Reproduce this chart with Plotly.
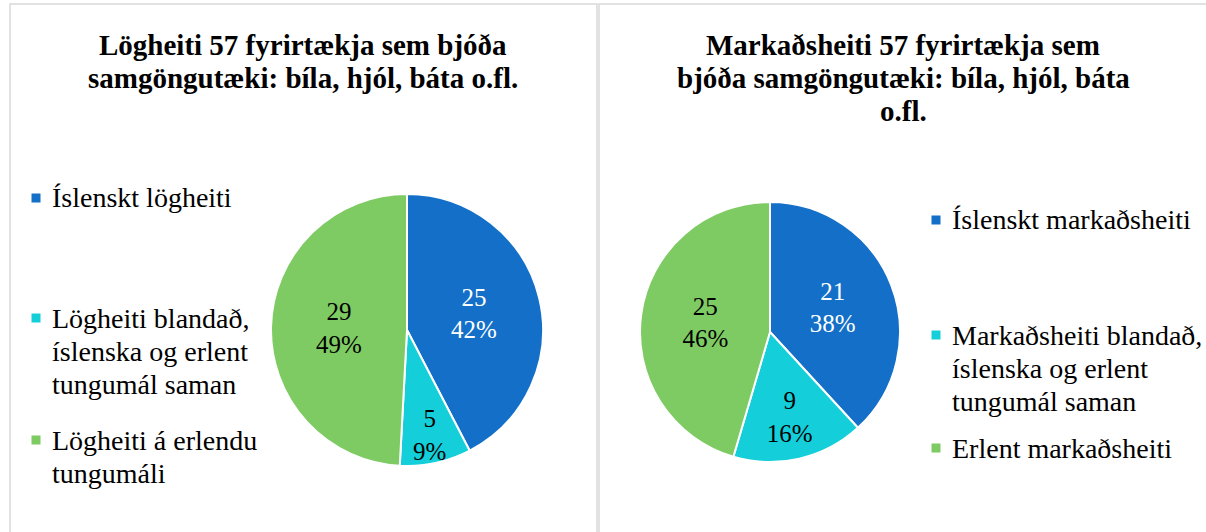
import plotly.graph_objects as go

W, H = 1206, 532

# data
left_labels = ['Íslenskt lögheiti', 'Lögheiti blandað,<br>íslenska og erlent<br>tungumál saman', 'Lögheiti á erlendu<br>tungumáli']
left_values = [25, 5, 29]
left_pct = ['42%', '9%', '49%']

right_labels = ['Íslenskt markaðsheiti', 'Markaðsheiti blandað,<br>íslenska og erlent<br>tungumál saman', 'Erlent markaðsheiti']
right_values = [21, 9, 25]
right_pct = ['38%', '16%', '46%']

left_title = ['Lögheiti 57 fyrirtækja sem bjóða', 'samgöngutæki: bíla, hjól, báta o.fl.']
right_title = ['Markaðsheiti 57 fyrirtækja sem', 'bjóða samgöngutæki: bíla, hjól, báta', 'o.fl.']

colors = ['#136FC7', '#14CFD9', '#7ECB63']
text_colors = ['white', 'black', 'black']
FONT = 'Liberation Serif'
LINE = 33  # line spacing used in the original (tighter than plotly's)


def px(x):
    return x / W


def py(y):
    return 1 - y / H


fig = go.Figure()

for labels, values, pct, dom in [
    (left_labels, left_values, left_pct, dict(x=[px(271), px(543)], y=[py(466), py(194)])),
    (right_labels, right_values, right_pct, dict(x=[px(640), px(900)], y=[py(462), py(202)])),
]:
    fig.add_trace(go.Pie(
        labels=[lab.replace('<br>', ' ') for lab in labels], values=values,
        text=[f'{v}<br>{p}' for v, p in zip(values, pct)],
        textinfo='text', textposition='inside', insidetextorientation='horizontal',
        insidetextfont=dict(color=text_colors, size=25, family=FONT),
        marker=dict(colors=colors, line=dict(color='white', width=2)),
        sort=False, direction='clockwise', rotation=0,
        domain=dom, showlegend=False, hoverinfo='skip'
    ))

annotations = []
shapes = [
    dict(type='rect', xref='paper', yref='paper', x0=px(10), x1=px(597), y0=py(545), y1=py(4),
         line=dict(color='#D9D9D9', width=1.5)),
    dict(type='rect', xref='paper', yref='paper', x0=px(599), x1=px(1220), y0=py(545), y1=py(4),
         line=dict(color='#D9D9D9', width=1.5)),
]

# titles, one annotation per line to keep the original line spacing
for lines, xc in [(left_title, 303), (right_title, 903)]:
    for j, line in enumerate(lines):
        annotations.append(dict(
            text=f'<b>{line}</b>', x=px(xc), y=py(45 + LINE * j),
            xref='paper', yref='paper', xanchor='center', yanchor='middle',
            showarrow=False, font=dict(family=FONT, size=29, color='black')))

# legends: square key + text lines, spread out like the original
for labels, xm, xt, ys in [(left_labels, 36, 50, [198, 318, 440]),
                           (right_labels, 936, 950, [220, 335, 448])]:
    for i, lab in enumerate(labels):
        shapes.append(dict(type='rect', xref='paper', yref='paper',
                           x0=px(xm - 4.5), x1=px(xm + 4.5), y0=py(ys[i] + 4.5), y1=py(ys[i] - 4.5),
                           fillcolor=colors[i], line=dict(width=0)))
        for j, line in enumerate(lab.split('<br>')):
            annotations.append(dict(
                text=line, x=px(xt), y=py(ys[i] + LINE * j),
                xref='paper', yref='paper', xanchor='left', yanchor='middle',
                showarrow=False, font=dict(family=FONT, size=28, color='black')))

fig.update_layout(
    width=W, height=H,
    margin=dict(l=0, r=0, t=0, b=0),
    paper_bgcolor='white', plot_bgcolor='white',
    annotations=annotations, shapes=shapes,
    uniformtext=dict(minsize=25, mode='show'),
)

fig.write_html('out.html', config={'displayModeBar': False},
               post_script="document.body.style.margin='0';")
